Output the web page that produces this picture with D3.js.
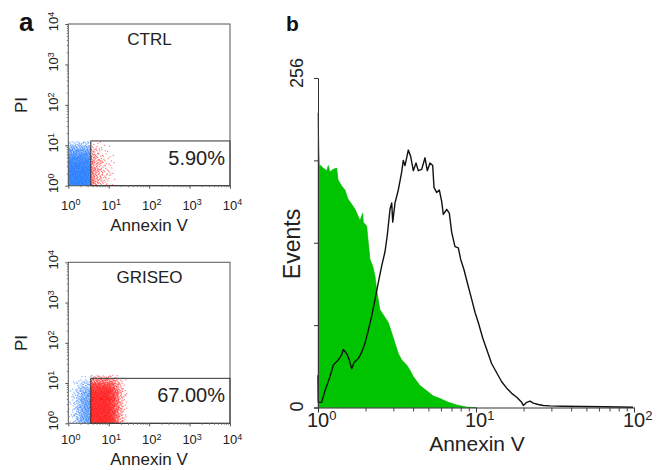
<!DOCTYPE html>
<html><head><meta charset="utf-8">
<script src="https://cdn.jsdelivr.net/npm/d3@7"></script>
<style>body{margin:0;background:#fff;} svg{display:block;font-family:"Liberation Sans",Arial,sans-serif;}</style>
</head><body>
<svg id="c" width="657" height="470"></svg>
<script>
// ---------- Panel b: histogram data (Annexin V intensity, events) ----------
const greenX = [1.00,1.02,1.08,1.135,1.162,1.191,1.244,1.313,1.339,1.413,1.482,1.548,1.634,1.715,1.791,1.845,1.918,1.935,2.033,2.082,2.134,2.219,2.296,2.352,2.468,2.591,2.786,2.928,3.072,3.223,3.387,3.642,3.823,4.01,4.42,4.875,5.368,5.918,6.68,7.55,8.73,10];
const greenCount = [229,189,186,184,188,183,185,186,177,172,169,162,158,154,149,145,151,144,141,128,115,110,102,91,76,72,66,58,50,42,37,33,29,24,17,13,9,7,4,2,0.3,0];
const blackX = [1.0,1.004,1.055,1.107,1.191,1.25,1.345,1.413,1.446,1.519,1.578,1.634,1.69,1.8,1.891,1.984,2.082,2.187,2.296,2.408,2.53,2.655,2.746,2.856,2.928,2.971,3.072,3.223,3.387,3.467,3.553,3.728,3.861,4.01,4.171,4.313,4.532,4.756,4.918,5.115,5.32,5.423,5.641,5.858,6.067,6.21,6.525,6.777,7.018,7.363,7.727,8.002,8.397,8.939,9.393,9.855,10.34,11.03,11.69,12.57,13.52,14.54,15.64,16.82,18.1,19.46,19.93,20.94,21.97,23.06,24.8,26.67,29.4,35,47.5,65,98.6];
const blackCount = [25,4,4,13,24,33,37,41,45,42,37,30,35,38,43,50,60,71,84,97,110,121,134,154,159,144,159,169,183,192,188,200,195,184,190,184,185,194,184,190,188,171,167,169,160,150,154,151,136,125,124,115,107,94,84,74,66,54,45,34,27,20,15,11,8,4,1.6,4,5,3.4,2.3,1.6,1.3,1.0,0.8,0.6,0.2];
const histYTicks = [0,64,128,192,256];
const histYLabels = ["0","256"];
const histXMajor = [1,10,100];
const histXLabelExp = ["0","1","2"];

// ---------- Panel a: dot plots (Annexin V vs PI), densities read per log bin ----------
const decades = [1,10,100,1000,10000];
const decadeExp = ["0","1","2","3","4"];
const panelNames = ["CTRL","GRISEO"];
const gatePercent = ["5.90%","67.00%"];
const gateX = [3.6,3.6];          // gate left edge (Annexin V)
const gateY = [12.8,13.1];        // gate top edge (PI)
// bin edges (intensity) and relative densities
const ctrlBlueXEdges = [1,1.26,1.58,2,2.51,3.16,3.6];
const ctrlBlueXW     = [1,1,1,1,1,0.95];
const ctrlBlueYEdges = [1,1.26,1.58,2,2.51,3.16,3.98,5.01,6.31,7.94,10,12.6];
const ctrlBlueYW     = [1,1,1,1,0.95,0.9,0.8,0.65,0.5,0.32,0.12];
const ctrlRedXEdges  = [3.6,4.47,5.62,7.08,8.91,11.2,14.1,20];
const ctrlRedXW      = [0.5,0.34,0.22,0.13,0.07,0.035,0.012];
const ctrlRedYEdges  = [1,1.26,1.58,2,2.51,3.16,3.98,5.01,6.31,7.94,10,12.6];
const ctrlRedYW      = [1,1,1,0.95,0.9,0.85,0.75,0.6,0.45,0.3,0.12];
const grisBlueXEdges = [1,1.26,1.58,2,2.51,3.16,3.6];
const grisBlueXW     = [0.04,0.15,0.35,0.6,0.75,0.8];
const grisBlueYEdges = [1,1.26,1.58,2,2.51,3.16,3.98,5.01,6.31,7.94,10,12.6,15.8];
const grisBlueYW     = [1,1,1,1,1,0.95,0.9,0.8,0.6,0.4,0.2,0.05];
const grisRedXEdges  = [3.6,4.47,5.62,7.08,8.91,11.2,14.1,17.8,22.4,28.2];
const grisRedXW      = [1,1,1,1,0.95,0.75,0.45,0.18,0.05];
const grisRedYEdges  = [1,1.26,1.58,2,2.51,3.16,3.98,5.01,6.31,7.94,10,12.6,15.8];
const grisRedYW      = [1,1,1,1,1,1,1,0.95,0.85,0.65,0.4,0.12];
const peakDensity = {ctrlBlue:2.3, ctrlRed:1.5, grisBlue:1.5, grisRed:2.3}; // dots per px² at weight 1

const svg = d3.select("#c");

// ================= Panel a =================
const boxes = [{top:24,bottom:185.7,tickBase:209.5,xTitle:230.5,piY:105},
               {top:262.3,bottom:423.3,tickBase:444,xTitle:464.5,piY:343}];
const pops = [
  [{xe:ctrlBlueXEdges,xw:ctrlBlueXW,ye:ctrlBlueYEdges,yw:ctrlBlueYW,peak:peakDensity.ctrlBlue,col:"#1e78ff"},
   {xe:ctrlRedXEdges,xw:ctrlRedXW,ye:ctrlRedYEdges,yw:ctrlRedYW,peak:peakDensity.ctrlRed,col:"#ff1414"}],
  [{xe:grisBlueXEdges,xw:grisBlueXW,ye:grisBlueYEdges,yw:grisBlueYW,peak:peakDensity.grisBlue,col:"#1e78ff"},
   {xe:grisRedXEdges,xw:grisRedXW,ye:grisRedYEdges,yw:grisRedYW,peak:peakDensity.grisRed,col:"#ff1414"}]
];
function halton(i,b){let f=1,r=0;while(i>0){f/=b;r+=f*(i%b);i=Math.floor(i/b);}return r;}

boxes.forEach((bx,p)=>{
  const x = d3.scaleLog().domain([1,1e4]).range([68.3,230]);
  const y = d3.scaleLog().domain([1,1e4]).range([bx.bottom,bx.top]);
  const g = svg.append("g");
  const dots = [];
  let idx = 1;
  pops[p].forEach(pop=>{
    for(let i=0;i<pop.xw.length;i++){
      for(let j=0;j<pop.yw.length;j++){
        const x0=x(pop.xe[i]), x1=x(pop.xe[i+1]);
        const y0=y(pop.ye[j]), y1=y(pop.ye[j+1]);
        const area=Math.abs((x1-x0)*(y1-y0));
        const n=Math.round(pop.peak*pop.xw[i]*pop.yw[j]*area);
        for(let k=0;k<n;k++){
          dots.push({px:x0+(x1-x0)*halton(idx,2), py:y0+(y1-y0)*halton(idx,3), col:pop.col});
          idx++;
        }
      }
    }
  });
  g.append("g").selectAll("rect").data(dots).join("rect")
    .attr("x",d=>d.px-0.6).attr("y",d=>d.py-0.6).attr("width",1.2).attr("height",1.2)
    .attr("fill",d=>d.col).attr("fill-opacity",0.55);
  g.append("rect").attr("x",x(1)).attr("y",y(1e4)).attr("width",x(1e4)-x(1)).attr("height",y(1)-y(1e4))
    .attr("fill","none").attr("stroke","#555").attr("stroke-width",1);
  g.append("rect").attr("x",x(gateX[p])).attr("y",y(gateY[p])).attr("width",x(1e4)-x(gateX[p])).attr("height",y(1)-y(gateY[p]))
    .attr("fill","none").attr("stroke","#333").attr("stroke-width",1);
  const minor=[];
  for(let d=1;d<1e4;d*=10) for(let m=2;m<=9;m++) minor.push(d*m);
  g.append("g").attr("transform",`translate(0,${bx.bottom})`)
    .call(d3.axisBottom(x).tickValues(minor).tickSize(1.5).tickFormat(""))
    .call(s=>{s.select(".domain").remove();s.selectAll("line").attr("stroke","#777");});
  g.append("g").attr("transform",`translate(0,${bx.bottom})`)
    .call(d3.axisBottom(x).tickValues(decades).tickSize(3).tickFormat(""))
    .call(s=>{s.select(".domain").remove();s.selectAll("line").attr("stroke","#555");});
  g.append("g").attr("transform",`translate(${x(1)},0)`)
    .call(d3.axisLeft(y).tickValues(minor).tickSize(1.5).tickFormat(""))
    .call(s=>{s.select(".domain").remove();s.selectAll("line").attr("stroke","#777");});
  g.append("g").attr("transform",`translate(${x(1)},0)`)
    .call(d3.axisLeft(y).tickValues(decades).tickSize(3).tickFormat(""))
    .call(s=>{s.select(".domain").remove();s.selectAll("line").attr("stroke","#555");});
  decades.forEach((v,i)=>{
    const t=g.append("text").attr("x",x(v)-7.2).attr("y",bx.tickBase)
      .attr("font-size",13).attr("fill","#222");
    t.append("tspan").text("10");
    t.append("tspan").attr("font-size",9).attr("dy",-4.5).text(decadeExp[i]);
  });
  decades.forEach((v,i)=>{
    const t=g.append("text").attr("transform",`translate(58.3,${y(v)}) rotate(-90)`)
      .attr("x",-7.2).attr("y",0).attr("font-size",13).attr("fill","#222");
    t.append("tspan").text("10");
    t.append("tspan").attr("font-size",9).attr("dy",-4.5).text(decadeExp[i]);
  });
  g.append("text").attr("x",149).attr("y",bx.xTitle).attr("text-anchor","middle")
    .attr("font-size",17).attr("fill","#222").text("Annexin V");
  g.append("text").attr("transform",`translate(26.7,${bx.piY}) rotate(-90)`).attr("text-anchor","middle")
    .attr("font-size",17).attr("fill","#222").text("PI");
  g.append("text").attr("x",149.5).attr("y",p===0?45:283.3).attr("text-anchor","middle")
    .attr("font-size",17).attr("fill","#222").text(panelNames[p]);
  g.append("text").attr("x",225).attr("y",p===0?165:401.7).attr("text-anchor","end")
    .attr("font-size",20).attr("fill","#222").text(gatePercent[p]);
});
svg.append("text").attr("x",19).attr("y",31).attr("font-size",26).attr("font-weight","bold").attr("fill","#111").text("a");

// ================= Panel b =================
const xB = d3.scaleLog().domain([1,100]).range([318,634]);
const yB = d3.scaleLinear().domain([0,256]).range([407.5,78]);
const gb = svg.append("g");
const greenData = greenX.map((v,i)=>({x:v,y:greenCount[i]}));
const blackData = blackX.map((v,i)=>({x:v,y:blackCount[i]}));
gb.append("path").datum(greenData)
  .attr("d",d3.area().x(d=>xB(d.x)).y0(yB(0)).y1(d=>yB(d.y)))
  .attr("fill","#00c400").attr("stroke","#00b000").attr("stroke-width",0.6);
gb.append("path").datum(blackData)
  .attr("d",d3.line().x(d=>xB(d.x)).y(d=>yB(d.y)))
  .attr("fill","none").attr("stroke","#111").attr("stroke-width",1.4).attr("stroke-linejoin","round");
const minorB=[];
for(let d=1;d<100;d*=10) for(let m=2;m<=9;m++) minorB.push(d*m);
gb.append("g").attr("transform",`translate(0,${yB(0)})`)
  .call(d3.axisBottom(xB).tickValues(minorB).tickSize(4).tickFormat(""))
  .call(s=>{s.select(".domain").attr("stroke","#333");s.selectAll("line").attr("stroke","#444");});
gb.append("g").attr("transform",`translate(0,${yB(0)})`)
  .call(d3.axisBottom(xB).tickValues(histXMajor).tickSize(5).tickFormat(""))
  .call(s=>{s.select(".domain").remove();s.selectAll("line").attr("stroke","#333");});
gb.append("g").attr("transform",`translate(${xB(1)},0)`)
  .call(d3.axisLeft(yB).tickValues(histYTicks).tickSize(4).tickFormat(""))
  .call(s=>{s.select(".domain").attr("stroke","#333");s.selectAll("line").attr("stroke","#333");});
histXMajor.forEach((v,i)=>{
  const t=gb.append("text").attr("x",xB(v)-11).attr("y",427).attr("font-size",20).attr("fill","#222");
  t.append("tspan").text("10");
  t.append("tspan").attr("font-size",13).attr("dy",-7).text(histXLabelExp[i]);
});
[0,256].forEach((v,i)=>{
  gb.append("text").attr("transform",`translate(303,${v===0?406.5:73}) rotate(-90)`)
    .attr("text-anchor","middle").attr("font-size",18).attr("fill","#222").text(histYLabels[i]);
});
gb.append("text").attr("x",477).attr("y",451).attr("text-anchor","middle")
  .attr("font-size",21).attr("fill","#222").text("Annexin V");
gb.append("text").attr("transform",`translate(300,244) rotate(-90)`).attr("text-anchor","middle")
  .attr("font-size",23).attr("fill","#222").text("Events");
svg.append("text").attr("x",286).attr("y",31).attr("font-size",21).attr("font-weight","bold").attr("fill","#111").text("b");
</script>
</body></html>
